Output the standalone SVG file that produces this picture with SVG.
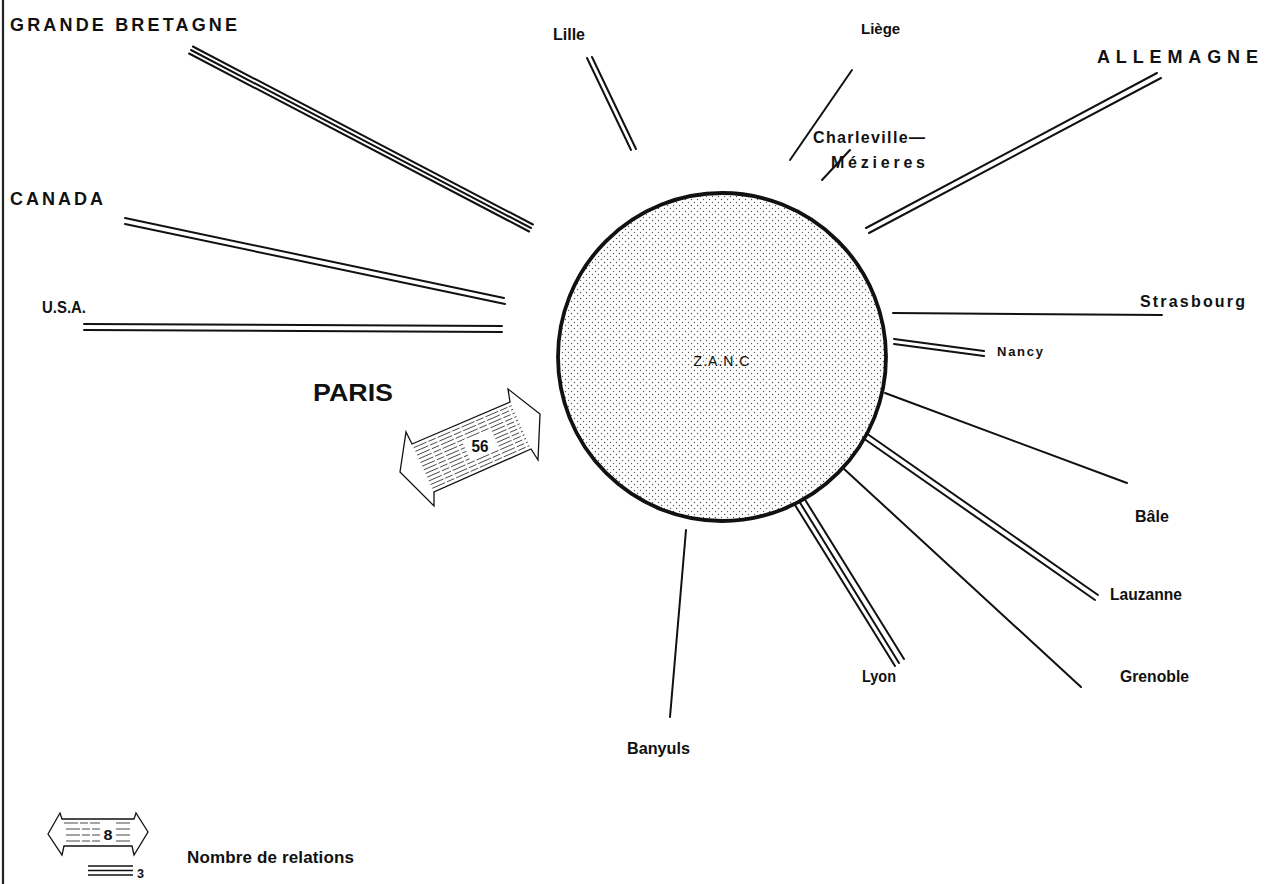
<svg xmlns="http://www.w3.org/2000/svg" width="1276" height="884" viewBox="0 0 1276 884">
<defs>
<pattern id="dots" width="6" height="6" patternUnits="userSpaceOnUse">
<circle cx="1.5" cy="1.5" r="0.7" fill="#555"/>
<circle cx="4.5" cy="4.5" r="0.7" fill="#555"/>
</pattern>
<style>
.t{font-family:"Liberation Sans",Arial,sans-serif;font-weight:700;fill:#111;font-size:16px;}
.c{font-size:18px;}
.ln{stroke:#111;stroke-width:2;fill:none;stroke-linecap:round;}
.h{stroke:#333;stroke-width:0.9;stroke-dasharray:14 2 8 2;}
.ar{fill:#fff;stroke:#111;stroke-width:1.3;stroke-linejoin:miter;}
</style>
</defs>
<rect width="1276" height="884" fill="#fff"/>
<line x1="3" y1="0" x2="3" y2="884" stroke="#222" stroke-width="2.2"/>

<g id="zanc">
<circle cx="722" cy="357" r="164" fill="url(#dots)" stroke="#111" stroke-width="3.8"/>
<text class="t" x="722" y="366" text-anchor="middle" style="font-weight:400;font-size:14px;letter-spacing:1px">Z.A.N.C</text>
</g>

<g id="connectors">
<line class="ln" x1="192.9" y1="46.5" x2="532.9" y2="224.5"/>
<line class="ln" x1="191" y1="50" x2="531" y2="228"/>
<line class="ln" x1="189.1" y1="53.5" x2="529.1" y2="231.5"/>
<line class="ln" x1="125" y1="218" x2="504" y2="298"/>
<line class="ln" x1="125" y1="224" x2="505" y2="304"/>
<line class="ln" x1="84" y1="324" x2="502" y2="326"/>
<line class="ln" x1="84" y1="330" x2="502" y2="332"/>
<line class="ln" x1="587" y1="58" x2="631" y2="150"/>
<line class="ln" x1="592" y1="57" x2="636" y2="149"/>
<line class="ln" x1="852" y1="70" x2="790" y2="160"/>
<line class="ln" x1="850" y1="150" x2="822" y2="180"/>
<line class="ln" x1="866" y1="228" x2="1157" y2="73"/>
<line class="ln" x1="869" y1="233" x2="1161" y2="78"/>
<line class="ln" x1="893" y1="313" x2="1162" y2="315"/>
<line class="ln" x1="894" y1="339" x2="984" y2="351"/>
<line class="ln" x1="894" y1="344" x2="984" y2="356"/>
<line class="ln" x1="885" y1="393" x2="1127" y2="483"/>
<line class="ln" x1="866" y1="433" x2="1098" y2="595"/>
<line class="ln" x1="863" y1="438" x2="1095" y2="600"/>
<line class="ln" x1="843" y1="468" x2="1081" y2="687"/>
<line class="ln" x1="795" y1="505" x2="895" y2="666"/>
<line class="ln" x1="799" y1="501" x2="899" y2="663"/>
<line class="ln" x1="804" y1="498" x2="904" y2="659"/>
<line class="ln" x1="686" y1="530" x2="670" y2="717"/>
</g>

<g id="paris">
<polygon class="ar" points="400,472 406,432 412,444 510,402 508,389 540,414 538,460 531,449 434,492 434,506"/>
<line class="h" x1="413.7" y1="447.7" x2="511.6" y2="405.6"/>
<line class="h" x1="415.4" y1="451.4" x2="513.2" y2="409.2"/>
<line class="h" x1="417.1" y1="455.1" x2="514.8" y2="412.8"/>
<line class="h" x1="418.8" y1="458.8" x2="516.5" y2="416.5"/>
<line class="h" x1="420.5" y1="462.5" x2="518.1" y2="420.1"/>
<line class="h" x1="422.2" y1="466.2" x2="519.7" y2="423.8"/>
<line class="h" x1="423.8" y1="469.8" x2="521.3" y2="427.4"/>
<line class="h" x1="425.5" y1="473.5" x2="523.0" y2="431.1"/>
<line class="h" x1="427.2" y1="477.2" x2="524.6" y2="434.7"/>
<line class="h" x1="428.9" y1="480.9" x2="526.2" y2="438.3"/>
<line class="h" x1="430.6" y1="484.6" x2="527.8" y2="442.0"/>
<line class="h" x1="432.3" y1="488.3" x2="529.4" y2="445.6"/>
<rect x="-15" y="-11" width="30" height="22" fill="#fff" transform="translate(480,445) rotate(-23)"/>
<text class="t" x="480" y="452" text-anchor="middle" textLength="17" lengthAdjust="spacingAndGlyphs" style="font-size:17px">56</text>
<text class="t" x="313" y="401" textLength="80" lengthAdjust="spacingAndGlyphs" style="font-size:24px">PARIS</text>
</g>

<g id="gb"><text class="t c" x="10" y="31" textLength="227" lengthAdjust="spacing">GRANDE BRETAGNE</text></g>
<g id="canada"><text class="t c" x="10" y="205" textLength="93" lengthAdjust="spacing">CANADA</text></g>
<g id="usa"><text class="t" x="42" y="313" textLength="44" lengthAdjust="spacingAndGlyphs">U.S.A.</text></g>
<g id="lille"><text class="t" x="553" y="40">Lille</text></g>
<g id="liege"><text class="t" x="861" y="34" style="font-size:15px">Liège</text></g>
<g id="charleville"><text class="t" x="813" y="143" textLength="112" lengthAdjust="spacing">Charleville—</text>
<text class="t" x="831" y="168" textLength="94" lengthAdjust="spacing">Mézieres</text></g>
<g id="allemagne"><text class="t c" x="1097" y="63" textLength="161" lengthAdjust="spacing">ALLEMAGNE</text></g>
<g id="strasbourg"><text class="t" x="1140" y="307" textLength="105" lengthAdjust="spacing">Strasbourg</text></g>
<g id="nancy"><text class="t" x="997" y="356" textLength="46" lengthAdjust="spacing" style="font-size:13px">Nancy</text></g>
<g id="bale"><text class="t" x="1135" y="522">Bâle</text></g>
<g id="lauzanne"><text class="t" x="1110" y="600" textLength="72" lengthAdjust="spacingAndGlyphs">Lauzanne</text></g>
<g id="grenoble"><text class="t" x="1120" y="682" textLength="69" lengthAdjust="spacingAndGlyphs">Grenoble</text></g>
<g id="lyon"><text class="t" x="862" y="682" textLength="34" lengthAdjust="spacingAndGlyphs">Lyon</text></g>
<g id="banyuls"><text class="t" x="627" y="754" textLength="63" lengthAdjust="spacingAndGlyphs">Banyuls</text></g>

<g id="legend">
<polygon class="ar" points="48,834 60,813 62,819 134,819 136,813 148,832 134,855 132,846 64,846 62,855"/>
<line class="h" x1="64" y1="823" x2="100" y2="823"/>
<line class="h" x1="66" y1="829" x2="100" y2="829"/>
<line class="h" x1="66" y1="835" x2="100" y2="835"/>
<line class="h" x1="66" y1="841" x2="100" y2="841"/>
<line class="h" x1="116" y1="823" x2="132" y2="823"/>
<line class="h" x1="116" y1="829" x2="132" y2="829"/>
<line class="h" x1="116" y1="835" x2="132" y2="835"/>
<line class="h" x1="116" y1="841" x2="132" y2="841"/>
<rect x="102" y="826" width="12" height="16" fill="#fff"/>
<text class="t" x="108" y="840" text-anchor="middle" textLength="9" lengthAdjust="spacingAndGlyphs" style="font-size:14px">8</text>
<line x1="88" y1="866" x2="133" y2="866" stroke="#111" stroke-width="1.6"/>
<line x1="88" y1="870.5" x2="133" y2="870.5" stroke="#111" stroke-width="1.6"/>
<line x1="88" y1="875" x2="133" y2="875" stroke="#111" stroke-width="1.6"/>
<text class="t" x="137" y="878" textLength="7" lengthAdjust="spacingAndGlyphs" style="font-size:13px">3</text>
<text class="t" x="187" y="863" textLength="167" lengthAdjust="spacing" style="font-size:17px">Nombre de relations</text>
</g>
</svg>
